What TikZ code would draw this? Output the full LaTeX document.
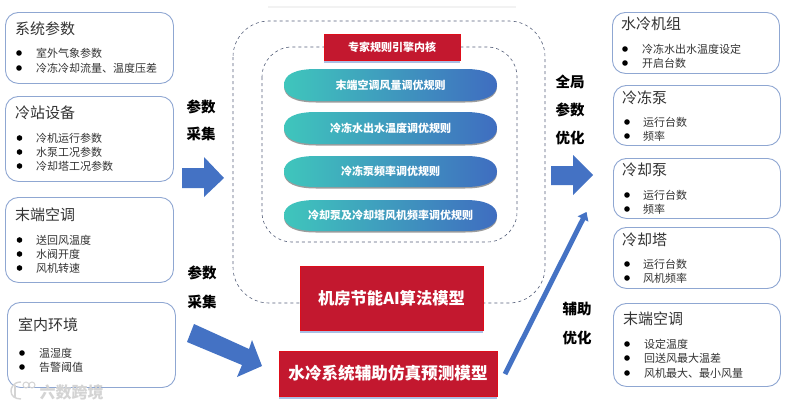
\documentclass[tikz,border=0pt]{standalone}
\usepackage{fontspec}
\setmainfont{Noto Sans CJK SC}
\usetikzlibrary{shadows,arrows.meta}
\definecolor{boxline}{HTML}{8FA7D2}
\definecolor{txt}{HTML}{333333}
\definecolor{blueA}{HTML}{4472C4}
\definecolor{redA}{HTML}{C3182F}
\definecolor{dashc}{HTML}{55607A}
\definecolor{tealA}{HTML}{3FC6BC}
\definecolor{blueB}{HTML}{3F6DC0}
\tikzset{
  x=1pt,y=-1pt,
  infobox/.style={draw=boxline,line width=0.9pt,rounded corners=13pt,fill=white},
  boxtitle/.style={anchor=west,inner sep=0pt,text=txt,font=\fontsize{15}{15}\selectfont},
  item/.style={anchor=west,inner sep=0pt,text=txt,font=\fontsize{11}{11}\selectfont},
  dot/.style={circle,fill=black,inner sep=0pt,minimum size=5.6pt},
  biglabel/.style={inner sep=0pt,text=black,font=\fontsize{14.5}{14.5}\selectfont\bfseries},
  dashbox/.style={draw=dashc,line width=0.6pt,dashed},
  redbox/.style={fill=redA,draw=red!45!redA,line width=0.4pt,text=white,inner sep=0pt,font=\bfseries,
    drop shadow={shadow xshift=0pt,shadow yshift=-2.5pt,fill=blueA,opacity=.45}},
  pillshape/.style={left color=tealA,right color=blueB,
    drop shadow={shadow xshift=0pt,shadow yshift=-1.5pt,fill=black!70,opacity=.55}},
  pilltext/.style={text=white,inner sep=0pt,font=\fontsize{11}{11}\selectfont\bfseries},
  blockarrow/.style={fill=blueA},
  wmline/.style={draw=black!17,line width=1.4pt},
}
\newcommand{\infobox}[5]{% name, x1,y1,x2,y2
  \node[infobox,minimum width=#4-#2,minimum height=#5-#3,inner sep=0pt,anchor=north west] (#1) at (#2,#3) {};}
\newcommand{\bitem}[4]{% bulletx,textx,y,text
  \node[dot] at (#1,#3) {};
  \node[item] at (#2,#3) {#4};}
\newcommand{\pillbox}[4]{% name, top, bottom, text
  \path[pillshape] (284,{(#2+#3)/2})
    .. controls (284,{#2+5}) and (296,#2) .. (316,#2) -- (465,#2)
    .. controls (485,#2) and (497,{#2+5}) .. (497,{(#2+#3)/2})
    .. controls (497,{#3-5}) and (485,#3) .. (465,#3) -- (316,#3)
    .. controls (296,#3) and (284,{#3-5}) .. (284,{(#2+#3)/2}) -- cycle;
  \node[pilltext] (#1) at (390.5,{(#2+#3)/2}) {#4};}
\begin{document}
\begin{tikzpicture}
\useasboundingbox (0,0) rectangle (792,407);
\fill[white] (0,0) rectangle (792,407);
\fill[black!5] (268,6) rectangle (516,8);

% left boxes
\infobox{la}{5}{12}{173}{83}
\node[boxtitle] at (15,29) {系统参数};
\bitem{19}{36}{53}{室外气象参数}
\bitem{19}{36}{68}{冷冻冷却流量、温度压差}
\infobox{lb}{5}{96}{173}{181}
\node[boxtitle] at (15,113) {冷站设备};
\bitem{19.5}{36}{138}{冷机运行参数}
\bitem{19.5}{36}{152}{水泵工况参数}
\bitem{19.5}{36}{166}{冷却塔工况参数}
\infobox{lc}{5}{197}{173}{282}
\node[boxtitle] at (15,215) {末端空调};
\bitem{19.5}{36}{240}{送回风温度}
\bitem{19.5}{36}{254}{水阀开度}
\bitem{19.5}{36}{268}{风机转速}
\infobox{ld}{7}{302}{175}{387}
\node[boxtitle] at (18,325) {室内环境};
\bitem{22}{39}{353}{温湿度}
\bitem{22}{39}{367}{告警阈值}

% watermark
\draw[wmline] (21,382) .. controls (13,382) and (11,388) .. (11,391) .. controls (11,396) and (15,399) .. (21,399);
\draw[wmline] (15,385) -- (15,397);
\draw[wmline,line width=1pt] (26,385) circle (3);
\draw[wmline,line width=1pt] (32,385) circle (3);
\node[inner sep=0pt,text=black!17,font=\fontsize{16}{16}\selectfont\bfseries] (wm) at (71.5,392) {六数跨境};

% right boxes
\infobox{ra}{612}{12}{779}{73}
\node[boxtitle] at (621,24) {水冷机组};
\bitem{625}{642}{49}{冷冻水出水温度设定}
\bitem{625}{642}{63}{开启台数}
\infobox{rb}{613}{85}{780}{145}
\node[boxtitle] at (622,98) {冷冻泵};
\bitem{627}{643}{122}{运行台数}
\bitem{627}{643}{136}{频率}
\infobox{rc}{613}{158}{780}{218}
\node[boxtitle] at (622,170) {冷却泵};
\bitem{627}{643}{195}{运行台数}
\bitem{627}{643}{209}{频率}
\infobox{rd}{613}{227}{780}{288}
\node[boxtitle] at (622,240) {冷却塔};
\bitem{627}{643}{264}{运行台数}
\bitem{627}{643}{278}{风机频率}
\infobox{re}{613}{303}{780}{386}
\node[boxtitle] at (623,319) {末端空调};
\bitem{627}{644}{344}{设定温度}
\bitem{627}{644}{358}{回送风最大温差}
\bitem{627}{644}{373}{风机最大、最小风量}

% labels
\node[biglabel] (p1) at (201,107) {参数};
\node[biglabel] (p2) at (201,134) {采集};
\node[biglabel] (p3) at (202,273) {参数};
\node[biglabel] (p4) at (202,302) {采集};
\node[biglabel] (p5) at (570,82) {全局};
\node[biglabel] (p6) at (570,110) {参数};
\node[biglabel] (p7) at (570,138) {优化};
\node[biglabel] (p8) at (577,309) {辅助};
\node[biglabel] (p9) at (577,338) {优化};

% dashed frames
\draw[dashbox,rounded corners=36pt] (233,21) rectangle (545,303);
\draw[dashbox,rounded corners=30pt] (262,47) rectangle (517,242);

% red boxes
\node[redbox,minimum width=136pt,minimum height=26pt,font=\fontsize{11}{11}\selectfont\bfseries] (core) at (392,47) {专家规则引擎内核};
\node[redbox,minimum width=183pt,minimum height=64pt,font=\fontsize{16.3}{16.3}\selectfont\bfseries] (ai) at (391.5,298) {机房节能AI算法模型};
\node[redbox,minimum width=218pt,minimum height=45pt,font=\fontsize{16.6}{16.6}\selectfont\bfseries] (sim) at (388,373.5) {水冷系统辅助仿真预测模型};

% pills
\pillbox{r1}{69}{101}{末端空调风量调优规则}
\pillbox{r2}{112}{144}{冷冻水出水温度调优规则}
\pillbox{r3}{156}{187}{冷冻泵频率调优规则}
\pillbox{r4}{200}{231}{冷却泵及冷却塔风机频率调优规则}

% block arrows
\fill[blockarrow] (182,168) -- (204,168) -- (204,157) -- (224,178) -- (204,197) -- (204,188) -- (182,188) -- cycle;
\fill[blockarrow] (551,166) -- (573,166) -- (573,155) -- (593,175) -- (573,195) -- (573,185) -- (551,185) -- cycle;
\fill[blockarrow] (194,324) -- (249,349) -- (252,340) -- (262,366) -- (237,377) -- (242,365) -- (187,342) -- cycle;
\fill[blockarrow] (502.8,372.9) -- (580.8,217.9) -- (577.6,216.3) -- (586.5,212) -- (588.4,221.7) -- (585.2,220.1) -- (507.2,375.1) -- cycle;
\end{tikzpicture}
\end{document}
